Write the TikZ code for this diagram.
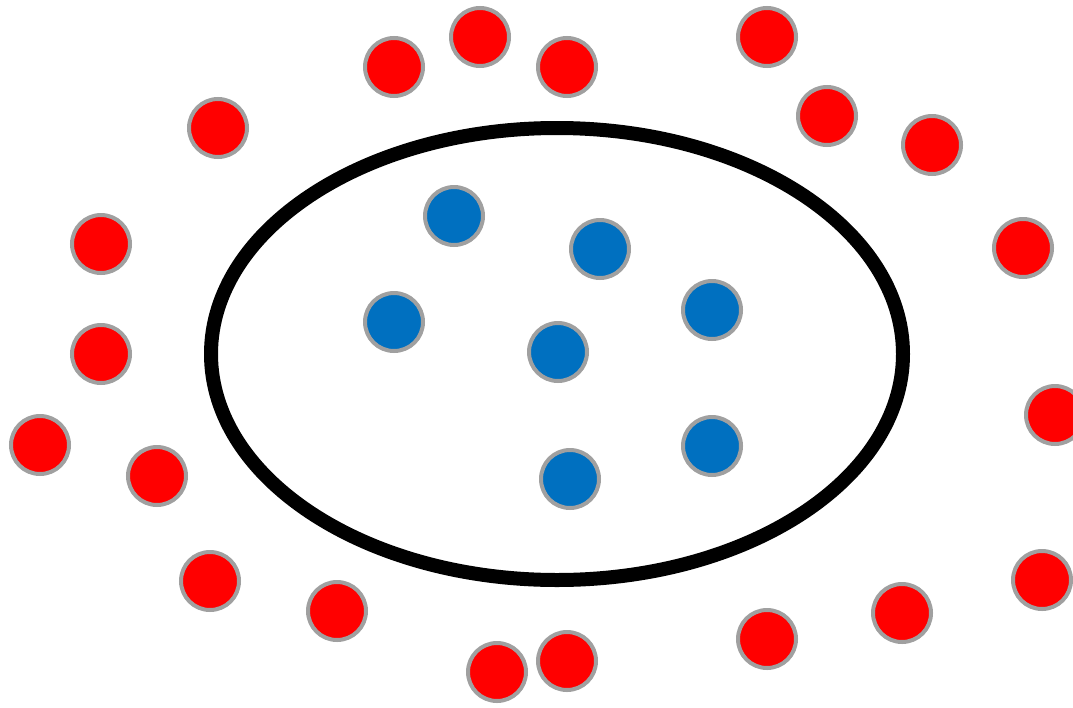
\documentclass[tikz,border=0pt]{standalone}
\definecolor{dotred}{HTML}{FF0000}
\definecolor{dotblue}{HTML}{0070C0}
\definecolor{rimgray}{HTML}{A0A0A0}
\tikzset{
  reddot/.style={circle, fill=dotred, draw=rimgray, line width=4pt, minimum size=58pt, inner sep=0pt},
  bluedot/.style={circle, fill=dotblue, draw=rimgray, line width=4pt, minimum size=58pt, inner sep=0pt},
  ring/.style={ellipse, draw=black, line width=14pt, minimum width=692pt, minimum height=452pt, inner sep=0pt}
}
\usetikzlibrary{shapes.geometric}
\begin{document}
\begin{tikzpicture}[x=1pt,y=-1pt]
\clip (0,0) rectangle (1073,707);
\fill[white] (0,0) rectangle (1073,707);
\node[ring] (E) at (557,354) {};
% red dots
\node[reddot] (r1) at (480,37) {};
\node[reddot] (r2) at (394,67) {};
\node[reddot] (r3) at (567,67) {};
\node[reddot] (r4) at (767,37) {};
\node[reddot] (r5) at (827,116) {};
\node[reddot] (r6) at (932,145) {};
\node[reddot] (r7) at (218,128) {};
\node[reddot] (r8) at (101,244) {};
\node[reddot] (r9) at (101,354) {};
\node[reddot] (r10) at (40,445) {};
\node[reddot] (r11) at (157,476) {};
\node[reddot] (r12) at (1023,248) {};
\node[reddot] (r13) at (1055,415) {};
\node[reddot] (r14) at (1042,580) {};
\node[reddot] (r15) at (902,613) {};
\node[reddot] (r16) at (767,639) {};
\node[reddot] (r17) at (567,661) {};
\node[reddot] (r18) at (497,672) {};
\node[reddot] (r19) at (337,611) {};
\node[reddot] (r20) at (210,581) {};
% blue dots
\node[bluedot] (b1) at (454,216) {};
\node[bluedot] (b2) at (600,249) {};
\node[bluedot] (b3) at (394,322) {};
\node[bluedot] (b4) at (712,310) {};
\node[bluedot] (b5) at (558,352) {};
\node[bluedot] (b6) at (712,446) {};
\node[bluedot] (b7) at (570,479) {};
\end{tikzpicture}
\end{document}
